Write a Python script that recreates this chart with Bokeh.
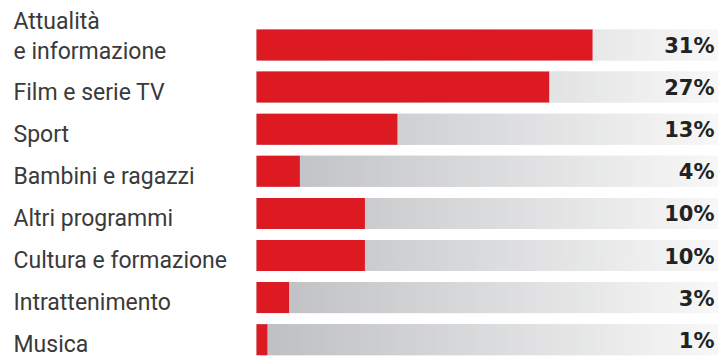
import numpy as np
from bokeh.plotting import figure
from bokeh.models import Range1d, ColumnDataSource
from bokeh.core.properties import value
from bokeh.embed import file_html
from bokeh.resources import INLINE

categories = ["Attualità\ne informazione", "Film e serie TV", "Sport", "Bambini e ragazzi",
              "Altri programmi", "Cultura e formazione", "Intrattenimento", "Musica"]
shares = [31, 27, 13, 4, 10, 10, 3, 1]
share_labels = ["31%", "27%", "13%", "4%", "10%", "10%", "3%", "1%"]

W, H = 718, 357
px_per = 10.84
x0_px = 256
xmin = -x0_px / px_per
xmax = (W - x0_px) / px_per
pitch = 42.1
c0 = 44.5
ytop = -c0 / pitch
ybot = (H - c0) / pitch

p = figure(width=W, height=H, output_backend="svg", toolbar_location=None,
           x_range=Range1d(xmin, xmax), y_range=Range1d(ybot, ytop),
           min_border=0, min_border_left=0, min_border_right=0,
           min_border_top=0, min_border_bottom=0)
p.axis.visible = False
p.grid.visible = False
p.outline_line_color = None
p.background_fill_color = "white"
p.border_fill_color = "white"

n = len(categories)
ys = np.arange(n)
bh = 31 / pitch

# gradient track (styling only)
nseg = 90
edges = np.linspace(0, xmax, nseg + 1)
step = edges[1] - edges[0]
c_left = np.array([0xbd, 0xbf, 0xc2])
c_right = np.array([0xf8, 0xf8, 0xf8])
seg_colors = []
for k in range(nseg):
    t = (k + 0.5) / nseg
    c = (c_left + (c_right - c_left) * t).astype(int)
    seg_colors.append("#%02x%02x%02x" % tuple(c))
L, R, B, T, C = [], [], [], [], []
for y in ys:
    for k in range(nseg):
        L.append(edges[k]); R.append(min(edges[k + 1] + step, xmax))
        B.append(y + bh / 2); T.append(y - bh / 2); C.append(seg_colors[k])
p.quad(left=L, right=R, bottom=B, top=T, fill_color=C, line_color=None)

src = ColumnDataSource(dict(y=ys, v=shares, lab=share_labels, cat=categories))
p.hbar(y="y", left=0, right="v", height=bh, fill_color="#dd1a22",
       line_color=None, source=src)

p.text(x=xmax, y="y", text="lab", source=src, x_offset=-4, y_offset=1,
       text_align="right", text_baseline="middle",
       text_font=value("DejaVu Sans"), text_font_style="bold",
       text_font_size="21px", text_color="#222222")

font = value("Roboto")
fsize = "23px"
single = [(i, c) for i, c in enumerate(categories) if "\n" not in c]
p.text(x=[xmin] * len(single), y=[i for i, _ in single], text=[c for _, c in single],
       x_offset=13, y_offset=5, text_align="left", text_baseline="middle",
       text_font=font, text_font_size=fsize, text_color="#3a3a3a")
for i, c in [(i, c) for i, c in enumerate(categories) if "\n" in c]:
    lines = c.split("\n")
    p.text(x=[xmin] * len(lines), y=[i] * len(lines), text=lines,
           x_offset=13, y_offset=[-24, 6], text_align="left", text_baseline="middle",
           text_font=font, text_font_size=fsize, text_color="#3a3a3a")

open("out.html", "w").write(file_html(p, INLINE))
